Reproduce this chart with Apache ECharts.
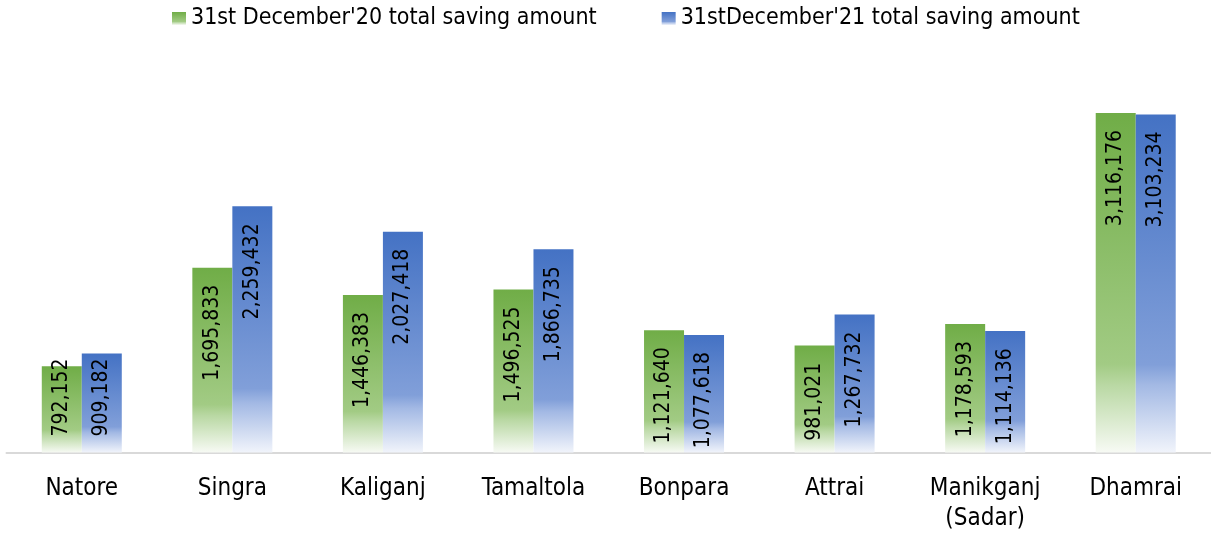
<!DOCTYPE html>
<html>
<head>
<meta charset="utf-8">
<script src="https://cdn.jsdelivr.net/npm/echarts@6/dist/echarts.min.js"></script>
<style>
html,body{margin:0;padding:0;background:#fff;}
#chart{width:1211px;height:536px;}
</style>
</head>
<body>
<div id="chart"></div>
<script>
const categories = ['Natore', 'Singra', 'Kaliganj', 'Tamaltola', 'Bonpara', 'Attrai', 'Manikganj\n(Sadar)', 'Dhamrai'];
const seriesNames = ["31st December'20 total saving amount", "31stDecember'21 total saving amount"];
const saving2020 = [792152, 1695833, 1446383, 1496525, 1121640, 981021, 1178593, 3116176];
const saving2021 = [909182, 2259432, 2027418, 1866735, 1077618, 1267732, 1114136, 3103234];

const FONT = "'DejaVu Sans Condensed', 'Liberation Sans Narrow', sans-serif";

function grad(c0, c1, c2, c3) {
  return new echarts.graphic.LinearGradient(0, 0, 0, 1, [
    { offset: 0, color: c0 },
    { offset: 0.74, color: c1 },
    { offset: 0.8, color: c2 },
    { offset: 1, color: c3 }
  ]);
}
const greenFill = grad('#70AD47', '#a2cb84', '#b9d8a3', '#f7faf4');
const blueFill = grad('#4472C4', '#819fd9', '#a3b9e4', '#f1f4fb');

function labelled(values) {
  return values.map(v => {
    if (v < 950000) {
      return { value: v, label: { position: 'insideBottom', distance: 16, align: 'left' } };
    }
    return v;
  });
}

function makeSeries(name, values, fill) {
  return {
    name: name,
    type: 'bar',
    data: labelled(values),
    barWidth: 40,
    barGap: '0%',
    itemStyle: { color: fill },
    emphasis: { disabled: true },
    label: {
      show: true,
      position: 'insideTop',
      distance: 17,
      rotate: 90,
      align: 'right',
      verticalAlign: 'middle',
      fontFamily: FONT,
      fontSize: 21,
      color: '#000',
      formatter: p => p.value.toLocaleString('en-US')
    }
  };
}

const chart = echarts.init(document.getElementById('chart'));
chart.setOption({
  animation: false,
  backgroundColor: '#fff',
  legend: {
    data: seriesNames,
    left: 167,
    top: 2,
    width: 1040,
    icon: 'rect',
    itemWidth: 14,
    itemHeight: 13,
    itemGap: 65,
    textStyle: { fontFamily: FONT, fontSize: 23, color: '#000' }
  },
  grid: { left: 6.5, top: 71.2, width: 1208, height: 381.3 },
  xAxis: {
    type: 'category',
    data: categories,
    axisLine: { lineStyle: { color: '#d9d9d9', width: 2 } },
    axisTick: { show: false },
    axisLabel: { fontFamily: FONT, fontSize: 24, color: '#000', margin: 21, lineHeight: 30, interval: 0 }
  },
  yAxis: {
    type: 'value',
    min: 0,
    max: 3500000,
    show: false,
    splitLine: { show: false }
  },
  series: [
    makeSeries(seriesNames[0], saving2020, greenFill),
    makeSeries(seriesNames[1], saving2021, blueFill)
  ]
});
</script>
</body>
</html>
